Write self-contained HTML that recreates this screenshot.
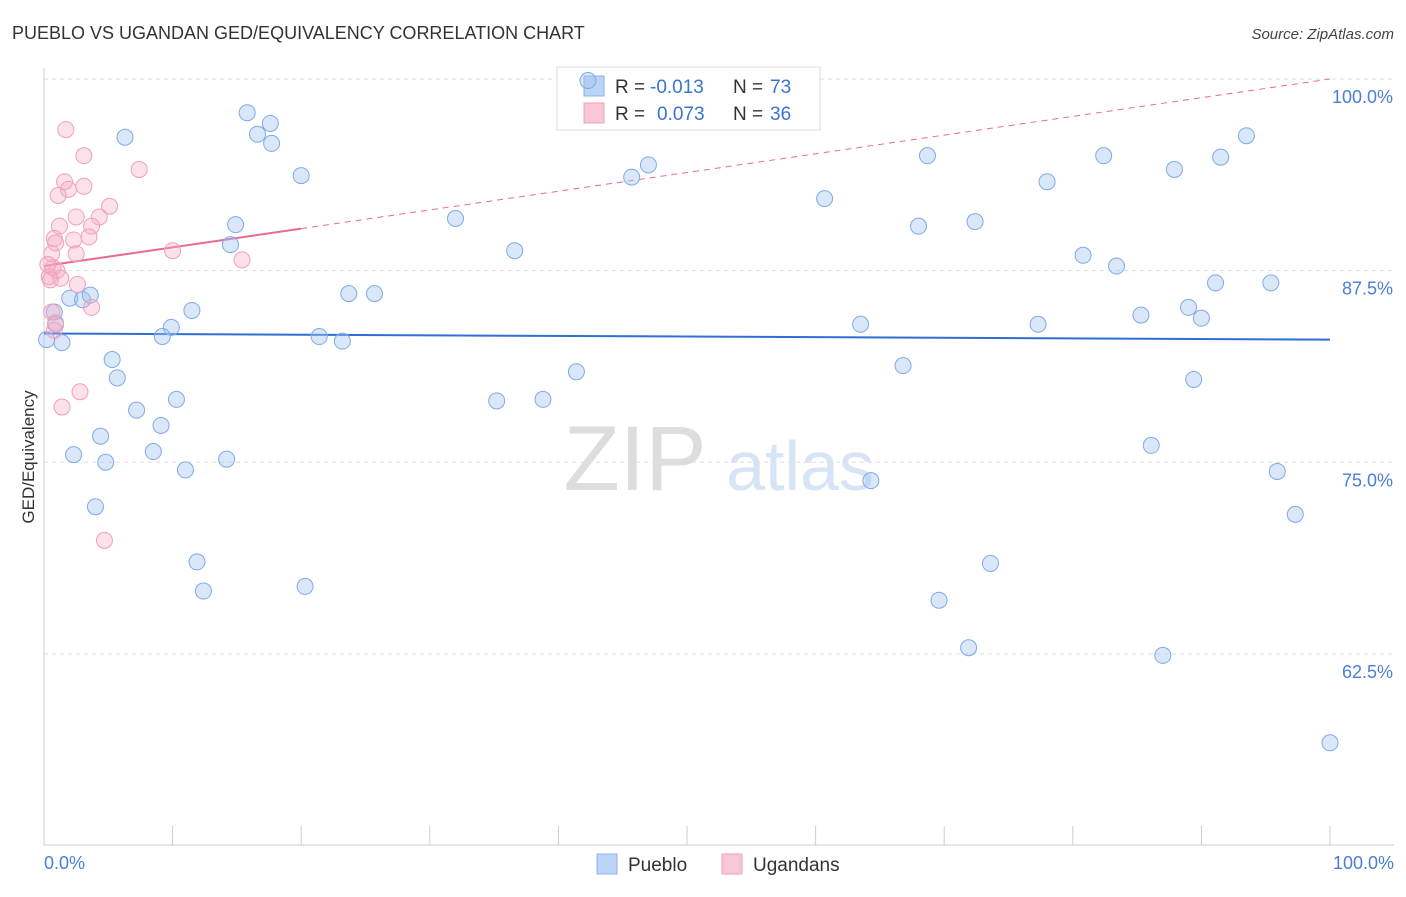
<!DOCTYPE html>
<html><head><meta charset="utf-8">
<style>
body{margin:0;background:#fff;font-family:"Liberation Sans",sans-serif;}
svg text{font-family:"Liberation Sans",sans-serif;}
</style></head>
<body>
<svg id="chart" width="1406" height="892" viewBox="0 0 1406 892" xmlns="http://www.w3.org/2000/svg">
<text x="12" y="39" font-size="18" fill="#333">PUEBLO VS UGANDAN GED/EQUIVALENCY CORRELATION CHART</text>
<text x="1394" y="39" font-size="15" fill="#444" text-anchor="end" font-style="italic">Source: ZipAtlas.com</text>
<g>
<text x="635" y="490" font-size="92" fill="#ddd" text-anchor="middle" font-family="Liberation Serif, serif">ZIP</text>
<text x="800" y="490" font-size="70" fill="#d6e4f5" text-anchor="middle">atlas</text>
</g>
<g id="grid"></g>
<g id="axes"></g>
<g>
<rect x="557" y="67" width="263" height="63" fill="#fff" stroke="#ddd"/>
<rect x="584" y="76" width="20" height="20" fill="#bcd4f5" stroke="#8ab4e8"/>
<rect x="584" y="103" width="20" height="20" fill="#f9c6d5" stroke="#f0a0b8"/>
<text x="615" y="93" font-size="19" fill="#333">R =</text>
<text x="650" y="93" font-size="19" fill="#3a74d0">-0.013</text>
<text x="733" y="93" font-size="19" fill="#333">N =</text>
<text x="770" y="93" font-size="19" fill="#3a74d0">73</text>
<text x="615" y="120" font-size="19" fill="#333">R =</text>
<text x="657" y="120" font-size="19" fill="#3a74d0">0.073</text>
<text x="733" y="120" font-size="19" fill="#333">N =</text>
<text x="770" y="120" font-size="19" fill="#3a74d0">36</text>
</g>
<g id="trend"></g>
<g id="points"></g>
<text transform="translate(34,457) rotate(-90)" font-size="17" fill="#333" text-anchor="middle">GED/Equivalency</text>
<text x="44" y="869" font-size="18" fill="#4a7fd4">0.0%</text>
<text x="1394" y="869" font-size="18" fill="#4a7fd4" text-anchor="end">100.0%</text>
<g>
<rect x="597" y="854" width="20" height="20" fill="#bcd4f5" stroke="#8ab4e8"/>
<text x="628" y="871" font-size="19" fill="#333">Pueblo</text>
<rect x="722" y="854" width="20" height="20" fill="#f9c6d5" stroke="#f0a0b8"/>
<text x="753" y="871" font-size="19" fill="#333">Ugandans</text>
</g>
</svg>
<script>
const yTicks=[100,87.5,75,62.5];
const yTickLabels=["100.0%","87.5%","75.0%","62.5%"];
const xTicks=[0,10,20,30,40,50,60,70,80,90,100];
const puebloX=[42.3,15.8,6.3,16.6,17.6,17.7,20.0,14.9,14.5,32.0,36.6,45.7,47.0,60.7,68.7,68.0,72.4,78.0,82.4,87.9,91.5,93.5,80.8,83.4,91.1,95.4,89.0,90.0,85.3,77.3,63.5,66.8,89.4,86.1,95.9,97.3,64.3,73.6,69.6,71.9,87.0,100,41.4,38.8,35.2,23.7,25.7,21.4,23.2,11.5,9.9,9.2,5.3,5.7,7.2,10.3,9.1,8.5,4.4,2.3,4.8,11.0,14.2,4.0,11.9,12.4,20.3,2.0,3.0,3.6,0.8,0.9,1.4,0.2];
const puebloY=[99.9,97.8,96.2,96.4,97.1,95.8,93.7,90.5,89.2,90.9,88.8,93.6,94.4,92.2,95.0,90.4,90.7,93.3,95.0,94.1,94.9,96.3,88.5,87.8,86.7,86.7,85.1,84.4,84.6,84.0,84.0,81.3,80.4,76.1,74.4,71.6,73.8,68.4,66.0,62.9,62.4,56.7,80.9,79.1,79.0,86.0,86.0,83.2,82.9,84.9,83.8,83.2,81.7,80.5,78.4,79.1,77.4,75.7,76.7,75.5,75.0,74.5,75.2,72.1,68.5,66.6,66.9,85.7,85.6,85.9,84.8,84.0,82.8,83.0];
const ugX=[1.7,3.1,7.4,1.6,1.9,3.1,1.1,5.1,2.5,4.3,1.2,3.7,3.5,0.8,2.3,0.9,10.0,15.4,2.5,0.6,0.7,1.0,0.4,1.3,2.6,3.7,0.6,0.9,0.8,2.8,1.4,4.7,0.3,0.5];
const ugY=[96.7,95.0,94.1,93.3,92.8,93.0,92.4,91.7,91.0,91.0,90.4,90.4,89.7,89.6,89.5,89.3,88.8,88.2,88.6,88.6,87.7,87.5,87.1,87.0,86.6,85.1,84.8,84.1,83.6,79.6,78.6,69.9,87.9,86.9];
const puebloTrend=[83.4,83.0];
const ugTrend=[87.8,100.0];
const ugSolidEnd=20;

const NS="http://www.w3.org/2000/svg";
const X=v=>44+v*12.86;
const Y=v=>79+(100-v)*15.33;
function mk(tag,attrs,parent){const e=document.createElementNS(NS,tag);for(const k in attrs)e.setAttribute(k,attrs[k]);parent.appendChild(e);return e;}
const grid=document.getElementById('grid'),axes=document.getElementById('axes'),trend=document.getElementById('trend'),pts=document.getElementById('points');
yTicks.forEach((t,i)=>{
 const l=mk('line',{x1:44,x2:1394,y1:Y(t),y2:Y(t),stroke:'#ddd','stroke-dasharray':'4,4'},grid);
 
 
 const tx=mk('text',{x:1393,y:Y(t)+24,'font-size':18,fill:'#4a7fd4','text-anchor':'end'},axes);
 tx.textContent=yTickLabels[i];
 
 
});
mk('line',{x1:44,x2:44,y1:68,y2:845,stroke:'#ccc'},axes);
mk('line',{x1:44,x2:1394,y1:845,y2:845,stroke:'#ccc'},axes);
xTicks.forEach(t=>{
 const l=mk('line',{x1:X(t),x2:X(t),y1:826,y2:845,stroke:'#ccc'},axes);
 
 
});
const bl=mk('line',{x1:X(0),y1:Y(puebloTrend[0]),x2:X(100),y2:Y(puebloTrend[1]),stroke:'#2f6fd6','stroke-width':2},trend);


const ugAt=v=>ugTrend[0]+(ugTrend[1]-ugTrend[0])*v/100;
const pd=mk('line',{x1:X(ugSolidEnd),y1:Y(ugAt(ugSolidEnd)),x2:X(100),y2:Y(ugAt(100)),stroke:'#e86a95','stroke-width':1,'stroke-dasharray':'6,5'},trend);


const pl=mk('line',{x1:X(0),y1:Y(ugAt(0)),x2:X(ugSolidEnd),y2:Y(ugAt(ugSolidEnd)),stroke:'#e86a95','stroke-width':2},trend);


puebloX.forEach((v,i)=>{
 const c=mk('circle',{cx:X(v),cy:Y(puebloY[i]),r:8,fill:'rgba(160,195,240,0.4)',stroke:'#7eaae6','stroke-width':1},pts);
 
 
});
ugX.forEach((v,i)=>{
 const c=mk('circle',{cx:X(v),cy:Y(ugY[i]),r:8,fill:'rgba(245,170,195,0.35)',stroke:'#f0a0b8','stroke-width':1},pts);
 
 
});
</script>
</body></html>
